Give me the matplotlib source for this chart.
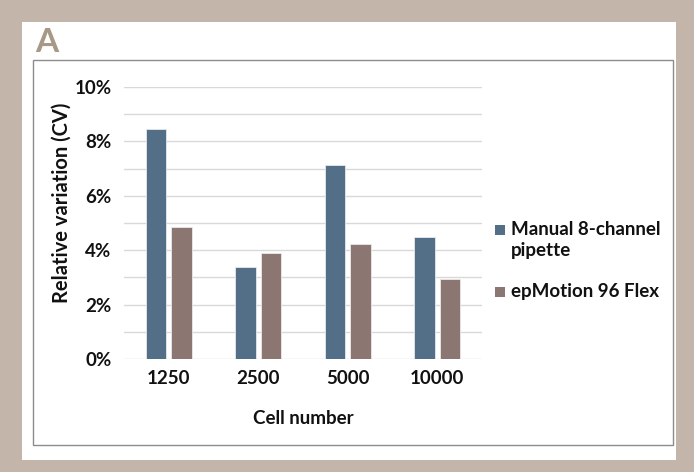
import matplotlib
matplotlib.use('Agg')
import matplotlib.pyplot as plt
from matplotlib.patches import Rectangle
import numpy as np

plt.rcParams['font.family'] = ['Lato', 'DejaVu Sans']

# data
cell_numbers = ['1250', '2500', '5000', '10000']
manual_cv = [8.45, 3.4, 7.15, 4.47]
epmotion_cv = [4.84, 3.9, 4.22, 2.95]
series_names = ['Manual 8-channel\npipette', 'epMotion 96 Flex']
series_colors = ['#536E87', '#8C7672']

W, H = 694, 472
fig = plt.figure(figsize=(W / 100, H / 100), dpi=100)
fig.patch.set_facecolor('#C3B5A9')

def fx(px):
    return px / W

def fy(py):
    return 1 - py / H

# white panel and the grey frame
fig.patches.append(Rectangle((fx(22), fy(460)), fx(676 - 22), (460 - 22) / H,
                             transform=fig.transFigure, facecolor='white', edgecolor='none', zorder=0))
fig.patches.append(Rectangle((fx(33), fy(445)), fx(673 - 33), (445 - 60) / H,
                             transform=fig.transFigure, facecolor='white', edgecolor='#8C8C8C',
                             linewidth=1.0, zorder=1))

fig.text(fx(35), fy(42), 'A', fontsize=24, color='#A89886', fontweight='bold',
         ha='left', va='center')

ax = fig.add_axes([fx(124), fy(359), fx(482 - 124), (359 - 87) / H])
ax.set_zorder(2)
ax.patch.set_alpha(0)

x = np.arange(len(cell_numbers))
bw = 0.227
gap = 0.055
ax.bar(x - (bw + gap) / 2, manual_cv, bw, color=series_colors[0], edgecolor='#E6E9EE',
       linewidth=0.6, zorder=3)
ax.bar(x + (bw + gap) / 2, epmotion_cv, bw, color=series_colors[1], edgecolor='#EEE8E8',
       linewidth=0.6, zorder=3)

ax.set_xlim(-0.5, 3.5)
ax.set_ylim(0, 10)
ax.set_yticks(np.arange(0, 11, 1))
ax.set_yticklabels([f'{v}%' if v % 2 == 0 else '' for v in range(0, 11)])
ax.grid(axis='y', color='#D9D9D9', linewidth=1.0, zorder=0)
ax.set_xticks(x)
ax.set_xticklabels(cell_numbers)
ax.tick_params(axis='both', length=0, labelsize=13.5, labelcolor='#111111')
ax.tick_params(axis='y', pad=9)
ax.tick_params(axis='x', pad=8)
for lbl in ax.get_xticklabels() + ax.get_yticklabels():
    lbl.set_fontweight('bold')
for s in ax.spines.values():
    s.set_visible(False)

ax.set_xlabel('Cell number', fontsize=13.5, fontweight='bold', color='#111111')
ax.xaxis.set_label_coords(0.5, (359 - 418) / (359 - 87))
ax.xaxis.label.set_va('center')
ax.set_ylabel('Relative variation (CV)', fontsize=14.5, fontweight='bold', color='#111111')
ax.yaxis.set_label_coords((62 - 124) / (482 - 124), (359 - 203) / (359 - 87))
ax.yaxis.label.set_va('center')

# legend drawn by hand so the square sits on the first text line
legend_y = [230, 292]
for name, color, ly in zip(series_names, series_colors, legend_y):
    fig.patches.append(Rectangle((fx(495), fy(ly + 5)), fx(10), 10 / H,
                                 transform=fig.transFigure, facecolor=color,
                                 edgecolor='none', zorder=3))
    fig.text(fx(511), fy(ly - 9), name, fontsize=13.5, fontweight='bold', color='#111111',
             ha='left', va='top', linespacing=1.3, zorder=3)

fig.savefig('out.png', dpi=100, facecolor=fig.get_facecolor())
